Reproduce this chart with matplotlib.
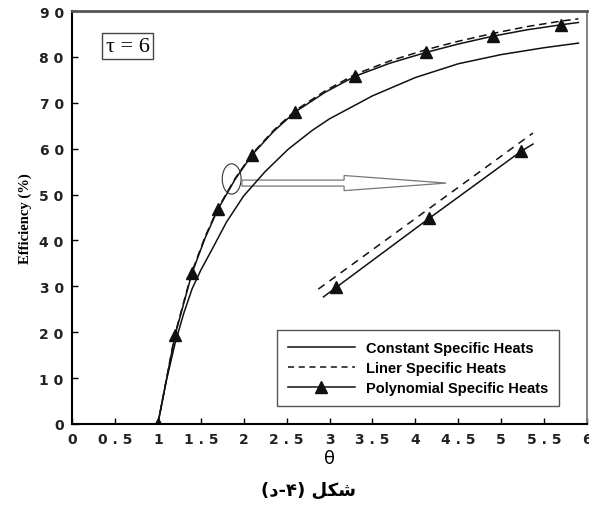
import numpy as np
import matplotlib
matplotlib.use("Agg")
import matplotlib.pyplot as plt
from matplotlib.patches import Ellipse, FancyArrow
from matplotlib.lines import Line2D

# ---- data ----
theta_const = [1.0, 1.1, 1.2, 1.3, 1.4, 1.5, 1.63, 1.8, 2.0, 2.25, 2.52, 2.8, 3.0, 3.5, 4.0, 4.5, 5.0, 5.5, 5.9]
eff_const = [0, 9.5, 17.5, 24, 29.5, 33.5, 38, 44, 49.7, 55, 59.9, 64, 66.5, 71.5, 75.5, 78.5, 80.5, 82, 83]

theta_poly = [1.0, 1.2, 1.4, 1.55, 1.7, 1.9, 2.1, 2.35, 2.6, 2.95, 3.3, 3.7, 4.13, 4.5, 4.9, 5.3, 5.7, 5.9]
eff_poly = [0, 19.3, 33, 40.5, 46.8, 53.3, 58.7, 63.8, 68, 72.3, 75.8, 78.6, 81, 82.8, 84.5, 85.9, 87, 87.5]
eff_lin = [0, 19.6, 33.3, 40.8, 47, 53.5, 58.9, 64, 68.3, 72.6, 76.2, 79.1, 81.6, 83.4, 85.1, 86.6, 87.8, 88.3]
poly_marks = [0, 1, 2, 4, 6, 8, 10, 12, 14, 16]

# zoomed detail (drawn inside the axes)
zoom_theta_lin = [2.87, 5.37]
zoom_eff_lin = [29.4, 63.4]
zoom_theta_poly = [2.93, 3.08, 4.16, 5.23, 5.37]
zoom_eff_poly = [27.7, 29.8, 44.8, 59.4, 61.0]
zoom_marks = [1, 2, 3]

x_ticks = [0, 0.5, 1, 1.5, 2, 2.5, 3, 3.5, 4, 4.5, 5, 5.5, 6]
y_ticks = [0, 10, 20, 30, 40, 50, 60, 70, 80, 90]

labels = ["Constant Specific Heats", "Liner Specific Heats", "Polynomial Specific Heats"]


def spaced(v):
    s = "%g" % v
    return " ".join(s)


fig = plt.figure(figsize=(5.89, 5.06), dpi=100)
ax = fig.add_axes([72 / 589, 1 - 425 / 506, 515 / 589, 413 / 506])

lc = "#111111"
ax.plot(theta_const, eff_const, color=lc, lw=1.1)
ax.plot(theta_poly, eff_lin, color=lc, lw=1.1, dashes=(5, 3))
ax.plot(theta_poly, eff_poly, color=lc, lw=1.1, marker="^", ms=8,
        markevery=poly_marks)

ax.plot(zoom_theta_lin, zoom_eff_lin, color=lc, lw=1.1, dashes=(5, 4))
ax.plot(zoom_theta_poly, zoom_eff_poly, color=lc, lw=1.1, marker="^", ms=8,
        markevery=zoom_marks)

# ellipse + hollow arrow pointing at the zoomed detail
ax.add_patch(Ellipse((1.86, 53.4), 0.22, 6.6, fill=False, ec="#333333", lw=0.8))
ax.add_patch(FancyArrow(1.98, 52.5, 2.38, 0, width=1.3, head_width=3.3,
                        head_length=1.19, length_includes_head=True,
                        fc="white", ec="#777777", lw=0.9))

ax.set_xlim(0, 6)
ax.set_ylim(0, 90)
ax.set_xticks(x_ticks)
ax.set_yticks(y_ticks)
tick_font = dict(family="DejaVu Sans", weight="bold", size=10, color="#222222")
ax.set_xticklabels([spaced(v) for v in x_ticks], **tick_font)
ax.set_yticklabels([spaced(v) for v in y_ticks], **tick_font)
ax.tick_params(direction="in", length=4, width=1, top=False, right=False)
ax.tick_params(axis="x", pad=6)
ax.tick_params(axis="y", pad=6)

for side in ["left", "bottom"]:
    ax.spines[side].set_color("black")
    ax.spines[side].set_linewidth(1.5)
ax.spines["top"].set_color("#555555")
ax.spines["top"].set_linewidth(2)
ax.spines["right"].set_color("#777777")
ax.spines["right"].set_linewidth(1.3)

ax.set_ylabel("Efficiency (%)", family="Liberation Serif", weight="bold", size=10.5, labelpad=5)
ax.set_xlabel("θ", family="DejaVu Sans", size=13, labelpad=2)

ax.text(0.108, 0.915, "τ = 6", transform=ax.transAxes, ha="center", va="center",
        family="Liberation Serif", size=16,
        bbox=dict(boxstyle="square,pad=0.15", fc="white", ec="#444444", lw=1))

handles = [
    Line2D([], [], color=lc, lw=1.1),
    Line2D([], [], color=lc, lw=1.1, dashes=(4, 3)),
    Line2D([], [], color=lc, lw=1.1, marker="^", ms=8),
]
leg = ax.legend(handles, labels, loc="lower left", bbox_to_anchor=(0.398, 0.043),
                prop=dict(family="Liberation Sans", weight="bold", size=10.5),
                handlelength=4.6, handletextpad=0.75, labelspacing=0.42,
                borderpad=0.75, borderaxespad=0, fancybox=False, framealpha=1,
                edgecolor="#555555")
leg.get_frame().set_linewidth(1)

# Persian caption, written in visual (shaped, left-to-right) order
fig.text(0.523, 1 - 491 / 506, "(\uFEA9-\u06F4) \uFEDE\uFB91\uFEB7", ha="center", va="center",
         family="DejaVu Sans", weight="bold", size=13)

fig.savefig("out.png", dpi=100)
